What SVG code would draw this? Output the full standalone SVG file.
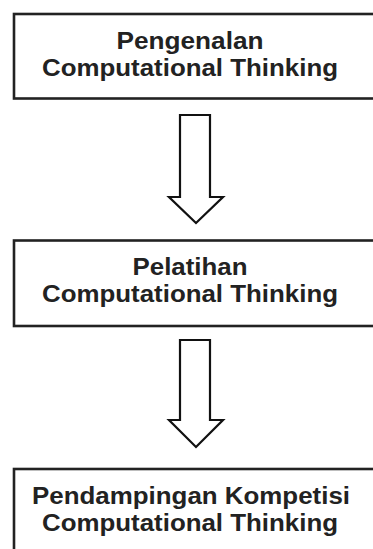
<svg xmlns="http://www.w3.org/2000/svg" width="373" height="549" viewBox="0 0 373 549">
<style>
.box{fill:#fff;stroke:#222;stroke-width:2.6}
.arrow{fill:#fff;stroke:#111;stroke-width:2.2;stroke-linejoin:miter}
.t{font-family:"Liberation Sans",Arial,sans-serif;font-weight:bold;font-size:23.5px;fill:#222;text-anchor:middle}
</style>
<rect width="373" height="549" fill="#fff"/>
<g id="node1">
<rect class="box" x="14" y="14" width="370" height="84.5"/>
<text class="t" x="190" y="49" textLength="147" lengthAdjust="spacingAndGlyphs">Pengenalan</text>
<text class="t" x="190" y="76" textLength="296" lengthAdjust="spacingAndGlyphs">Computational Thinking</text>
</g>
<g id="node2">
<rect class="box" x="14" y="240.5" width="370" height="85.5"/>
<text class="t" x="190" y="275" textLength="115" lengthAdjust="spacingAndGlyphs">Pelatihan</text>
<text class="t" x="190" y="302" textLength="296" lengthAdjust="spacingAndGlyphs">Computational Thinking</text>
</g>
<g id="node3">
<rect class="box" x="14" y="469" width="370" height="90"/>
<text class="t" x="191" y="503.5" textLength="318" lengthAdjust="spacingAndGlyphs">Pendampingan Kompetisi</text>
<text class="t" x="190" y="530.5" textLength="296" lengthAdjust="spacingAndGlyphs">Computational Thinking</text>
</g>
<g id="connectors">
<path class="arrow" d="M180,115 H210 V197 H223 L196,223 L169,197 H180 Z"/>
<path class="arrow" d="M180,340 H210 V420 H223 L196,447 L169,420 H180 Z"/>
</g>
</svg>
